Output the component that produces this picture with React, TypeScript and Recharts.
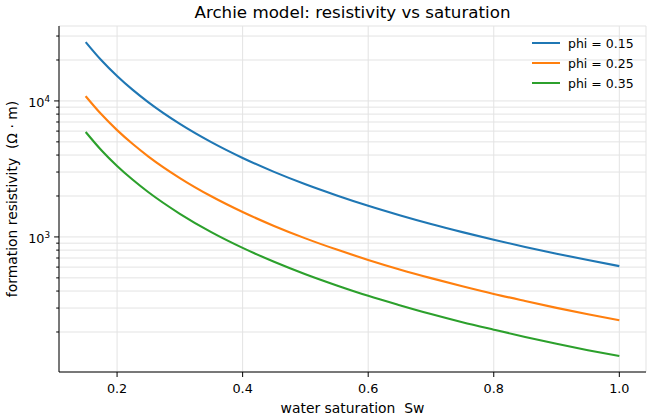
import React from 'react';
import { LineChart, Line, XAxis, YAxis, CartesianGrid, Legend } from 'recharts';

const FONT = '"DejaVu Sans", sans-serif';

// water saturation values (x)
const sw = [0.15, 0.175, 0.2, 0.225, 0.25, 0.3, 0.35, 0.4, 0.45, 0.5, 0.55, 0.6, 0.65, 0.7, 0.75, 0.8, 0.85, 0.9, 0.95, 1.0];
// formation resistivity (ohm·m)
const rtPhi015 = [27100, 19900, 15250, 12050, 9760, 6780, 4980, 3810, 3010, 2440, 2020, 1695, 1445, 1245, 1085, 953, 844, 753, 676, 610];
const rtPhi025 = [10840, 7970, 6100, 4820, 3900, 2710, 1990, 1525, 1205, 976, 807, 678, 577, 498, 434, 381, 338, 301, 270, 244];
const rtPhi035 = [5910, 4340, 3325, 2630, 2130, 1480, 1085, 831, 657, 532, 440, 369, 315, 271, 236, 208, 184, 164, 147, 133];

const seriesNames = ['phi = 0.15', 'phi = 0.25', 'phi = 0.35'];
const seriesKeys = ['p015', 'p025', 'p035'];
const seriesColors = ['#1f77b4', '#ff7f0e', '#2ca02c'];

const xTicks = [0.2, 0.4, 0.6, 0.8, 1.0];
const yTicks = [200, 300, 400, 500, 600, 700, 800, 900, 1000, 2000, 3000, 4000, 5000, 6000, 7000, 8000, 9000, 10000, 20000, 30000];
const yMajor: Record<number, string> = { 1000: '3', 10000: '4' };

const xDomain = [0.1075, 1.0425];
const yDomain = [101.6, 35560];

const data = sw.map((s, i) => ({
  sw: s,
  p015: rtPhi015[i],
  p025: rtPhi025[i],
  p035: rtPhi035[i],
}));

const YTick = (props: any) => {
  const { x, y, payload } = props;
  const v = payload.value;
  const exp = yMajor[v];
  const len = exp ? 4.9 : 2.8;
  return (
    <g>
      <line x1={x - len} x2={x} y1={y} y2={y} stroke="#000" strokeWidth={1} />
      {exp && (
        <text x={x - len - 4} y={y + 5.7} textAnchor="end" fontSize={12.8} fontFamily={FONT} fill="#000">
          10
          <tspan fontSize={8.8} dy={-5}>{exp}</tspan>
        </text>
      )}
    </g>
  );
};

const XLabel = (props: any) => {
  const vb = props.viewBox || {};
  return (
    <text
      x={vb.x + vb.width / 2}
      y={408}
      textAnchor="middle"
      dominantBaseline="central"
      fontSize={13.9}
      fontFamily={FONT}
      fill="#000"
      style={{ whiteSpace: 'pre' }}
    >
      {'water saturation  Sw'}
    </text>
  );
};

const YLabel = () => (
  <text
    x={12}
    y={199}
    transform="rotate(-90 12 199)"
    textAnchor="middle"
    dominantBaseline="central"
    fontSize={13.9}
    fontFamily={FONT}
    fill="#000"
    style={{ whiteSpace: 'pre' }}
  >
    {'formation resistivity  (Ω · m)'}
  </text>
);

const LegendContent = () => (
  <svg width={110} height={60} style={{ display: 'block' }}>
    {seriesNames.map((n, i) => (
      <g key={n}>
        <line x1={0} x2={28} y1={10 + i * 20} y2={10 + i * 20} stroke={seriesColors[i]} strokeWidth={2} />
        <text x={36} y={10 + i * 20} dominantBaseline="central" fontSize={12.5} fontFamily={FONT} fill="#000">
          {n}
        </text>
      </g>
    ))}
  </svg>
);

export default function App() {
  return (
    <div style={{ position: 'absolute', left: 0, top: 0, width: 650, height: 420, background: '#fff', fontFamily: FONT }}>
      <div
        style={{
          position: 'absolute',
          left: 59,
          width: 587,
          top: 2,
          textAlign: 'center',
          fontSize: 16.7,
          lineHeight: '20px',
          color: '#000',
        }}
      >
        Archie model: resistivity vs saturation
      </div>
      <LineChart width={650} height={420} data={data} margin={{ top: 26, right: 4, bottom: 0, left: 0 }}>
        <CartesianGrid stroke="#e3e3e3" strokeWidth={1} />
        <XAxis
          dataKey="sw"
          type="number"
          domain={xDomain}
          allowDataOverflow
          ticks={xTicks}
          interval={0}
          tickFormatter={(v: number) => v.toFixed(1)}
          height={48}
          tickSize={5}
          tickMargin={6.5}
          axisLine={{ stroke: '#000' }}
          tickLine={{ stroke: '#000' }}
          tick={{ fill: '#000', fontSize: 12.8, fontFamily: FONT }}
          label={{ content: XLabel }}
        />
        <XAxis
          xAxisId="top"
          orientation="top"
          type="number"
          domain={xDomain}
          allowDataOverflow
          height={0}
          tick={false}
          tickLine={false}
          axisLine={{ stroke: '#000' }}
        />
        <YAxis
          type="number"
          scale="log"
          domain={yDomain}
          allowDataOverflow
          ticks={yTicks}
          interval={0}
          width={59}
          tickSize={0}
          tickMargin={0}
          tickLine={false}
          axisLine={{ stroke: '#000' }}
          tick={<YTick />}
          label={{ content: YLabel }}
        />
        <YAxis
          yAxisId="right"
          orientation="right"
          type="number"
          scale="log"
          domain={yDomain}
          allowDataOverflow
          width={0}
          tick={false}
          tickLine={false}
          axisLine={{ stroke: '#000' }}
        />
        {seriesKeys.map((k, i) => (
          <Line
            key={k}
            dataKey={k}
            name={seriesNames[i]}
            type="monotone"
            stroke={seriesColors[i]}
            strokeWidth={2.1}
            dot={false}
            activeDot={false}
            isAnimationActive={false}
          />
        ))}
        <Legend
          layout="vertical"
          align="center"
          verticalAlign="middle"
          content={LegendContent}
          wrapperStyle={{ position: 'absolute', left: 532, top: 33, width: 110, height: 60 }}
        />
      </LineChart>
    </div>
  );
}
